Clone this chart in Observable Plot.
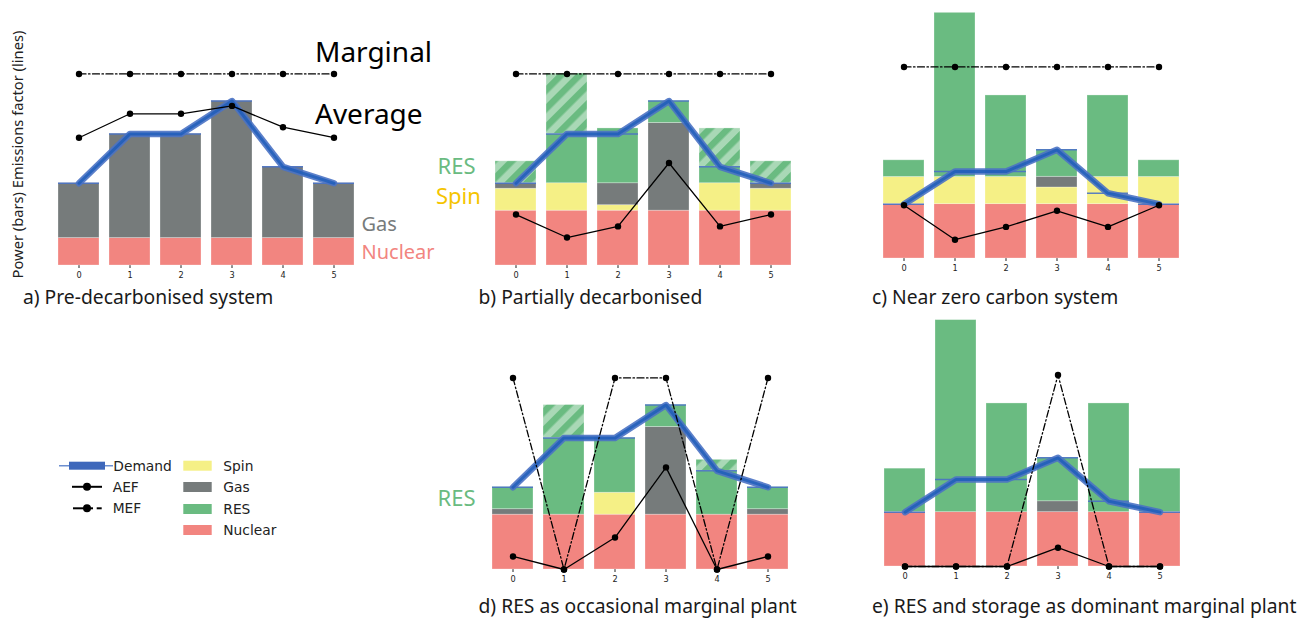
<!DOCTYPE html>
<html><head><meta charset="utf-8">
<script src="https://cdn.jsdelivr.net/npm/d3@7"></script>
<script src="https://cdn.jsdelivr.net/npm/@observablehq/plot@0.6"></script>
<style>
html,body{margin:0;padding:0;background:#fff;}
#fig{position:relative;width:1300px;height:622px;overflow:hidden;}
#fig svg{position:absolute;}
</style></head><body>
<svg width="0" height="0" style="position:absolute">
<defs><pattern id="hatch" patternUnits="userSpaceOnUse" width="13" height="13" patternTransform="rotate(45)">
<rect width="13" height="13" fill="#a9d8b6"/><rect width="6.5" height="13" fill="#6abb81"/></pattern></defs></svg>
<div id="fig"></div>
<script>
// ---------- data ----------
const steps = [0, 1, 2, 3, 4, 5];
const sources = ["Nuclear", "Spin", "Gas", "RES", "RES curtailed"];
const sourceColors = ["#f28580", "#f5f086", "#767b7b", "#6abb81", "url(#hatch)"];

// a) Pre-decarbonised system
const aNuclear = [1, 1, 1, 1, 1, 1];
const aGas = [2, 3.8, 3.8, 5, 2.6, 2];
const aDemand = [3, 4.8, 4.8, 6, 3.6, 3];
const aAEF = [0.667, 0.792, 0.792, 0.833, 0.722, 0.667];
const aMEF = [1, 1, 1, 1, 1, 1];

// b) Partially decarbonised
const bNuclear = [2, 2, 2, 2, 2, 2];
const bSpin = [0.8, 1.0, 0.2, 0, 1.0, 0.8];
const bGas = [0.2, 0, 0.8, 3.2, 0, 0.2];
const bRES = [0, 1.8, 2.0, 0.8, 0.6, 0];
const bCurtailed = [0.8, 2.2, 0, 0, 1.4, 0.8];
const bDemand = [3, 4.8, 4.8, 6, 3.6, 3];
const bAEF = [0.266, 0.146, 0.204, 0.535, 0.204, 0.266];
const bMEF = [1, 1, 1, 1, 1, 1];

// c) Near zero carbon system
const cNuclear = [3, 3, 3, 3, 3, 3];
const cSpin = [1.5, 1.5, 1.5, 0.92, 1.5, 1.5];
const cGas = [0, 0, 0, 0.59, 0, 0];
const cRES = [0.92, 9.06, 4.5, 1.5, 4.5, 0.92];
const cDemand = [3, 4.8, 4.8, 6, 3.6, 3];
const cAEF = [0.278, 0.098, 0.165, 0.249, 0.165, 0.278];
const cMEF = [1, 1, 1, 1, 1, 1];

// d) RES as occasional marginal plant
const dNuclear = [2, 2, 2, 2, 2, 2];
const dSpin = [0, 0, 0.8, 0, 0, 0];
const dGas = [0.2, 0, 0, 3.2, 0, 0.2];
const dRES = [0.8, 2.8, 2.0, 0.8, 1.6, 0.8];
const dCurtailed = [0, 1.2, 0, 0, 0.4, 0];
const dDemand = [3, 4.8, 4.8, 6, 3.6, 3];
const dAEF = [0.068, 0, 0.167, 0.533, 0, 0.068];
const dMEF = [1, 0, 1, 1, 0, 1];

// e) RES and storage as dominant marginal plant
const eNuclear = [3, 3, 3, 3, 3, 3];
const eGas = [0, 0, 0, 0.6, 0, 0];
const eRES = [2.4, 10.6, 6.0, 2.4, 6.0, 2.4];
const eDemand = [3, 4.8, 4.8, 6, 3.6, 3];
const eAEF = [0, 0, 0, 0.098, 0, 0];
const eMEF = [0, 0, 0, 1, 0, 0];

const titles = {
  a: "a) Pre-decarbonised system",
  b: "b) Partially decarbonised",
  c: "c) Near zero carbon system",
  d: "d) RES as occasional marginal plant",
  e: "e) RES and storage as dominant marginal plant"
};
const yAxisLabel = "Power (bars) Emissions factor (lines)";
const lineLegend = ["Demand", "AEF", "MEF"];
const colorLegend = ["Spin", "Gas", "RES", "Nuclear"];

const panels = [
  {id: "a", bars: {Nuclear: aNuclear, Gas: aGas}, demand: aDemand, aef: aAEF, mef: aMEF},
  {id: "b", bars: {Nuclear: bNuclear, Spin: bSpin, Gas: bGas, RES: bRES, "RES curtailed": bCurtailed}, demand: bDemand, aef: bAEF, mef: bMEF},
  {id: "c", bars: {Nuclear: cNuclear, Spin: cSpin, Gas: cGas, RES: cRES}, demand: cDemand, aef: cAEF, mef: cMEF},
  {id: "d", bars: {Nuclear: dNuclear, Spin: dSpin, Gas: dGas, RES: dRES, "RES curtailed": dCurtailed}, demand: dDemand, aef: dAEF, mef: dMEF},
  {id: "e", bars: {Nuclear: eNuclear, Gas: eGas, RES: eRES}, demand: eDemand, aef: eAEF, mef: eMEF}
];

// ---------- layout ----------
const layout = {
  a: {left: 50.5, baseline: 265, yMax: 9.12, tx: 23, ty: 304.3},
  b: {left: 487.9, baseline: 264.7, yMax: 9.12, tx: 478.5, ty: 304.3},
  c: {left: 876.1, baseline: 257.7, yMax: 13.8, tx: 872, ty: 303.5},
  d: {left: 485.1, baseline: 568.7, yMax: 9.12, tx: 478.5, ty: 612.8},
  e: {left: 877.1, baseline: 565.7, yMax: 13.8, tx: 872, ty: 613.3}
};
const W = 310.5, HP = 250, MB = 22, EFMAX = 1.305;
const baseStyle = {fontFamily: "DejaVu Sans", fontSize: "8.2px", color: "#222", background: "transparent", overflow: "visible"};
const xScale = (show) => ({type: "band", domain: steps, paddingInner: 0.2, paddingOuter: 0.1,
  axis: show ? "bottom" : null, tickSize: 3, tickPadding: 4, label: null});

const fig = document.getElementById("fig");
function place(svg, left, top) {
  svg.style.position = "absolute";
  svg.style.left = left + "px";
  svg.style.top = top + "px";
  svg.style.maxWidth = "none";
  fig.appendChild(svg);
}

for (const p of panels) {
  const L = layout[p.id];
  const rows = [];
  for (const s of sources) {
    const arr = p.bars[s];
    if (!arr) continue;
    arr.forEach((v, i) => { if (v > 0) rows.push({t: steps[i], src: s, v}); });
  }
  const dem = p.demand.map((v, i) => ({t: steps[i], v}));
  const bars = Plot.plot({
    width: W, height: HP + MB, marginTop: 0, marginBottom: MB, marginLeft: 0, marginRight: 0,
    style: baseStyle,
    x: xScale(true),
    y: {domain: [0, L.yMax], axis: null},
    color: {domain: sources, range: sourceColors},
    marks: [
      Plot.barY(rows, Plot.stackY({x: "t", y: "v", fill: "src", order: sources,
        stroke: "white", strokeOpacity: 0.35, strokeWidth: 0.8})),
      Plot.tickY(dem, {x: "t", y: "v", stroke: "#4a72c4", strokeWidth: 1.5, strokeOpacity: 0.9}),
      Plot.line(dem, {x: "t", y: "v", stroke: "#4a72c4", strokeWidth: 6.5, strokeOpacity: 0.9}),
      Plot.line(dem, {x: "t", y: "v", stroke: "#1658b8", strokeWidth: 3, strokeOpacity: 0.7})
    ]
  });
  place(bars, L.left, L.baseline - HP);

  const aef = p.aef.map((v, i) => ({t: steps[i], v}));
  const mef = p.mef.map((v, i) => ({t: steps[i], v}));
  const lines = Plot.plot({
    width: W, height: HP + MB, marginTop: 0, marginBottom: MB, marginLeft: 0, marginRight: 0,
    style: baseStyle,
    x: xScale(false),
    y: {domain: [0, EFMAX], axis: null},
    marks: [
      Plot.line(mef, {x: "t", y: "v", stroke: "black", strokeWidth: 1.3, strokeDasharray: "7,2.5,1.5,2.5"}),
      Plot.dot(mef, {x: "t", y: "v", r: 3.2, fill: "black"}),
      Plot.line(aef, {x: "t", y: "v", stroke: "black", strokeWidth: 1.3}),
      Plot.dot(aef, {x: "t", y: "v", r: 3.2, fill: "black"})
    ]
  });
  place(lines, L.left, L.baseline - HP);
}

// ---------- annotations & legend ----------
const ann = d3.create("svg").attr("width", 1300).attr("height", 622)
  .style("left", "0px").style("top", "0px").style("pointer-events", "none")
  .style("font-family", "'Noto Sans', sans-serif");

for (const p of panels) {
  const L = layout[p.id];
  ann.append("text").attr("x", L.tx).attr("y", L.ty).attr("font-size", 19.3).attr("fill", "#1a1a1a").text(titles[p.id]);
}
ann.append("text").attr("transform", "translate(23.3,154.5) rotate(-90)").attr("text-anchor", "middle")
  .attr("font-size", 14.7).attr("fill", "#222").text(yAxisLabel);

const labels = [
  {t: "Marginal", x: 315, y: 61.7, s: 28, c: "#000"},
  {t: "Average", x: 315, y: 124.3, s: 28, c: "#000"},
  {t: "Gas", x: 361.5, y: 231.3, s: 20, c: "#777b7b"},
  {t: "Nuclear", x: 361.5, y: 258.5, s: 20, c: "#f28580"},
  {t: "RES", x: 437.5, y: 174, s: 22, c: "#6abb81"},
  {t: "Spin", x: 436, y: 204.3, s: 22, c: "#f5c400"},
  {t: "RES", x: 437.5, y: 505.7, s: 22, c: "#6abb81"}
];
for (const l of labels) ann.append("text").attr("x", l.x).attr("y", l.y).attr("font-size", l.s).attr("fill", l.c).text(l.t);

// legend
const lg = ann.append("g").attr("font-family", "'DejaVu Sans', sans-serif").attr("font-size", 13.8).attr("fill", "#222");
const ly = [465.7, 486.8, 508.3];
lg.append("line").attr("x1", 59).attr("x2", 113).attr("y1", ly[0]).attr("y2", ly[0]).attr("stroke", "#6d8fd0").attr("stroke-width", 1.5);
lg.append("rect").attr("x", 69).attr("y", ly[0] - 4).attr("width", 36).attr("height", 8).attr("fill", "#3e68bb");
lg.append("line").attr("x1", 72).attr("x2", 102).attr("y1", ly[1]).attr("y2", ly[1]).attr("stroke", "#000").attr("stroke-width", 2);
lg.append("circle").attr("cx", 87).attr("cy", ly[1]).attr("r", 4).attr("fill", "#000");
lg.append("line").attr("x1", 73).attr("x2", 93).attr("y1", ly[2]).attr("y2", ly[2]).attr("stroke", "#000").attr("stroke-width", 2);
lg.append("line").attr("x1", 96.7).attr("x2", 101.7).attr("y1", ly[2]).attr("y2", ly[2]).attr("stroke", "#000").attr("stroke-width", 2);
lg.append("circle").attr("cx", 87).attr("cy", ly[2]).attr("r", 4).attr("fill", "#000");
lineLegend.forEach((t, i) => lg.append("text").attr("x", i === 0 ? 113.3 : 112.7).attr("y", ly[i]).attr("dy", "0.36em").text(t));
const cy = [465.7, 487, 509, 530];
colorLegend.forEach((t, i) => {
  lg.append("rect").attr("x", 183.3).attr("y", cy[i] - 5).attr("width", 28.4).attr("height", 10)
    .attr("fill", sourceColors[sources.indexOf(t)]);
  lg.append("text").attr("x", 223.3).attr("y", cy[i]).attr("dy", "0.36em").text(t);
});
fig.appendChild(ann.node());
</script></body></html>
